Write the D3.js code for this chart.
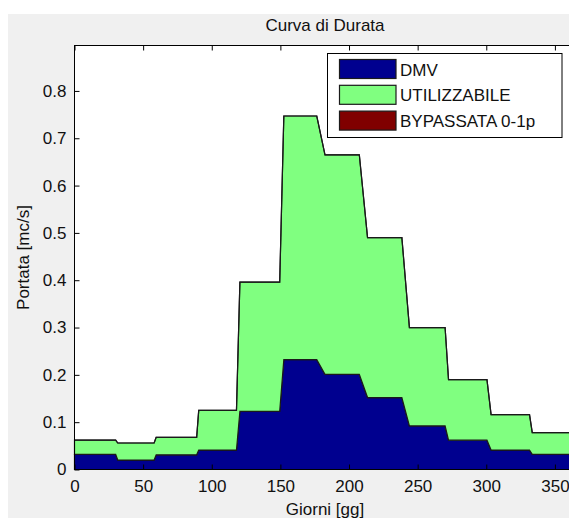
<!DOCTYPE html>
<html>
<head>
<meta charset="utf-8">
<script src="https://cdn.jsdelivr.net/npm/d3@7"></script>
<style>
  html, body { margin: 0; padding: 0; background: #ffffff; }
  svg { display: block; }
  text { font-family: "Liberation Sans", Arial, sans-serif; fill: #111; }
</style>
</head>
<body>
<script>
// ---- data ----
const days = [0, 30, 31.5, 58, 59.5, 89, 90.5, 118, 120.5, 149.5, 152.5, 176.5, 182.5, 207.5, 213.5, 238.5, 244, 270, 272.5, 300.5, 303.5, 331.5, 333.5, 365];
const dmv = [0.032, 0.032, 0.020, 0.020, 0.031, 0.031, 0.041, 0.041, 0.123, 0.123, 0.232, 0.232, 0.201, 0.201, 0.152, 0.152, 0.092, 0.092, 0.062, 0.062, 0.041, 0.041, 0.032, 0.032];
const utilizzabile = [0.030, 0.030, 0.036, 0.036, 0.037, 0.037, 0.084, 0.084, 0.273, 0.273, 0.515, 0.515, 0.464, 0.464, 0.338, 0.338, 0.208, 0.208, 0.128, 0.128, 0.075, 0.075, 0.046, 0.046];
const bypassata = [0, 0, 0, 0, 0, 0, 0, 0, 0, 0, 0, 0, 0, 0, 0, 0, 0, 0, 0, 0, 0, 0, 0, 0];
const seriesNames = ["DMV", "UTILIZZABILE", "BYPASSATA 0-1p"];
const seriesColors = ["#00008F", "#80FF80", "#800000"];
const xTicks = [0, 50, 100, 150, 200, 250, 300, 350];
const yTicks = [0, 0.1, 0.2, 0.3, 0.4, 0.5, 0.6, 0.7, 0.8];
const xDomain = [0, 365];
const yDomain = [0, 0.896];
const titleText = "Curva di Durata";
const xLabel = "Giorni [gg]";
const yLabel = "Portata [mc/s]";

// ---- layout ----
const W = 569, H = 518;
const L = 74.5, R = 575.5, T = 45.5, B = 469.5;
const FS = 17;

const svg = d3.select("body").append("svg").attr("width", W).attr("height", H);

// figure background
svg.append("rect").attr("x", 8).attr("y", 14).attr("width", W - 8).attr("height", H - 14).attr("fill", "#f0f0f0");

const x = d3.scaleLinear().domain(xDomain).range([L, R]);
const y = d3.scaleLinear().domain(yDomain).range([B, T]);

// plot area
svg.append("rect").attr("x", L).attr("y", T).attr("width", R - L).attr("height", B - T).attr("fill", "#ffffff");

const table = days.map((d, i) => ({ day: d, "DMV": dmv[i], "UTILIZZABILE": utilizzabile[i], "BYPASSATA 0-1p": bypassata[i] }));
const stack = d3.stack().keys(seriesNames)(table);

const area = d3.area()
  .x(d => x(d.data.day))
  .y0(d => y(d[0]))
  .y1(d => y(d[1]));

const g = svg.append("g");
g.selectAll("path.area").data(stack).join("path")
  .attr("class", "area")
  .attr("d", area)
  .attr("fill", (d, i) => seriesColors[i])
  .attr("stroke", "#1a1a1a")
  .attr("stroke-width", 1.2)
  .attr("stroke-linejoin", "miter");

// axes box
svg.append("rect").attr("x", L).attr("y", T).attr("width", R - L).attr("height", B - T)
  .attr("fill", "none").attr("stroke", "#000").attr("stroke-width", 1);

const tickLen = 5;
// bottom axis (ticks inward)
const xAxisB = d3.axisBottom(x).tickValues(xTicks).tickSize(-tickLen).tickPadding(10).tickFormat(d3.format("d"));
const gxb = svg.append("g").attr("transform", `translate(0,${B})`).call(xAxisB);
// top axis ticks
const xAxisT = d3.axisTop(x).tickValues(xTicks).tickSize(-tickLen).tickFormat("");
const gxt = svg.append("g").attr("transform", `translate(0,${T})`).call(xAxisT);
// left axis
const fmtY = d => d === 0 ? "0" : d3.format(".1f")(d);
const yAxisL = d3.axisLeft(y).tickValues(yTicks).tickSize(-tickLen).tickPadding(8).tickFormat(fmtY);
const gyl = svg.append("g").attr("transform", `translate(${L},0)`).call(yAxisL);
// right axis ticks
const yAxisR = d3.axisRight(y).tickValues(yTicks).tickSize(-tickLen).tickFormat("");
const gyr = svg.append("g").attr("transform", `translate(${R},0)`).call(yAxisR);

[gxb, gxt, gyl, gyr].forEach(a => {
  a.select(".domain").remove();
  a.selectAll(".tick line").attr("stroke", "#000");
  a.selectAll(".tick text").attr("font-size", FS).attr("font-family", "Liberation Sans, Arial, sans-serif").attr("fill", "#111");
});

// title and labels
svg.append("text").attr("x", (L + R) / 2).attr("y", 31).attr("text-anchor", "middle").attr("font-size", 17).text(titleText);
svg.append("text").attr("x", (L + R) / 2).attr("y", 515).attr("text-anchor", "middle").attr("font-size", FS).text(xLabel);
svg.append("text").attr("transform", `translate(29,${(T + B) / 2}) rotate(-90)`).attr("text-anchor", "middle").attr("font-size", FS).text(yLabel);

// legend
const lg = svg.append("g");
lg.append("rect").attr("x", 327.5).attr("y", 53.5).attr("width", 234.5).attr("height", 84)
  .attr("fill", "#ffffff").attr("stroke", "#000").attr("stroke-width", 1);
seriesNames.forEach((name, i) => {
  const yy = 59.5 + i * 25.8;
  lg.append("rect").attr("x", 339.5).attr("y", yy).attr("width", 56.5).attr("height", 19)
    .attr("fill", seriesColors[i]).attr("stroke", "#1a1a1a").attr("stroke-width", 1.2);
  lg.append("text").attr("x", 400).attr("y", yy + 16).attr("font-size", FS).text(name);
});
</script>
</body>
</html>
